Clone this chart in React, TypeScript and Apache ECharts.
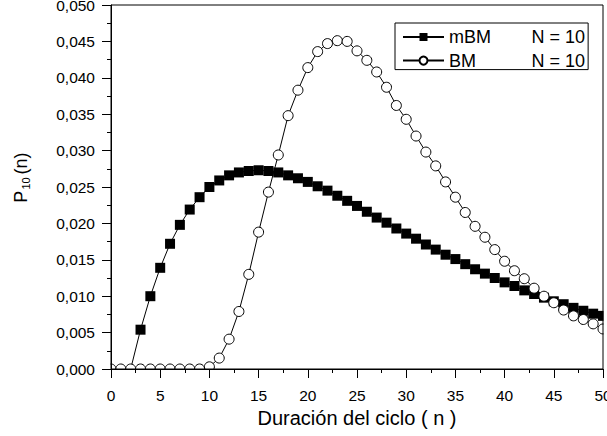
import React, { useEffect, useRef } from "react";
import * as echarts from "echarts";

const nValues: number[] = Array.from({ length: 51 }, (_, i) => i);

// mBM, N = 10 (starts at n = 2)
const mbmStart = 2;
const mbmValues: number[] = [
  0, 0.0054, 0.0100, 0.0139, 0.0172, 0.0198, 0.0219, 0.0236, 0.0250, 0.0259,
  0.0266, 0.0270, 0.0272, 0.0273, 0.0272, 0.0270, 0.0266, 0.0262, 0.0257, 0.0251,
  0.0245, 0.0238, 0.0231, 0.0224, 0.0216, 0.0208, 0.0201, 0.0193, 0.0186, 0.0179,
  0.0171, 0.0164, 0.0157, 0.0151, 0.0144, 0.0137, 0.0131, 0.0125, 0.0119, 0.0114,
  0.0108, 0.0103, 0.0098, 0.0093, 0.0089, 0.0084, 0.0080, 0.0076, 0.0073,
];

// BM, N = 10 (n = 0..50)
const bmValues: number[] = [
  0, 0, 0, 0, 0, 0, 0, 0, 0, 0,
  0.0003, 0.0015, 0.0041, 0.0079, 0.0130, 0.0188, 0.0243, 0.0294, 0.0348, 0.0383,
  0.0414, 0.0436, 0.0447, 0.0451, 0.0450, 0.0437, 0.0424, 0.0408, 0.0387, 0.0362,
  0.0343, 0.0320, 0.0298, 0.0279, 0.0257, 0.0236, 0.0215, 0.0196, 0.0181, 0.0164,
  0.0148, 0.0135, 0.0124, 0.0111, 0.0100, 0.0091, 0.0081, 0.0073, 0.0068, 0.0062,
  0.0055,
];

const seriesNames = ["mBM", "BM"];
const seriesN = ["N = 10", "N = 10"];
const xTitle = "Duración del ciclo ( n )";

const FONT = '"Liberation Sans", Arial, Helvetica, sans-serif';

export default function App() {
  const ref = useRef<HTMLDivElement>(null);
  useEffect(() => {
    if (!ref.current) return;
    const chart = echarts.init(ref.current, null, { renderer: "svg" });
    const W = 607;
    const H = 436;
    const gL = 111, gT = 5, gR = 4, gB = 67;
    const plotBottom = H - gB;
    const plotRight = W - gR;

    const mbmData = mbmValues.map((v, i) => {
      const n = nValues[i + mbmStart];
      if (i === 0) return { value: [n, v], symbol: "none" };
      return { value: [n, v] };
    });
    const bmData = bmValues.map((v, i) => [nValues[i], v]);

    chart.setOption({
      animation: false,
      textStyle: { fontFamily: FONT },
      grid: {
        left: gL, top: gT, right: gR, bottom: gB,
        containLabel: false,
        outerBoundsMode: "none",
        show: true, borderColor: "#000", borderWidth: 1, z: 6,
        backgroundColor: "transparent",
      },
      legend: {
        orient: "vertical",
        left: 395,
        top: 23,
        padding: [5, 3, 0, 7],
        itemGap: 5.6,
        itemWidth: 41,
        itemHeight: 10,
        borderColor: "#000",
        borderWidth: 1,
        backgroundColor: "#fff",
        data: seriesNames,
        formatter: (name: string) => {
          const idx = seriesNames.indexOf(name);
          return `{a|${name}}{b|${seriesN[idx]}}`;
        },
        textStyle: {
          fontFamily: FONT,
          fontSize: 18,
          color: "#000",
          rich: {
            a: { fontFamily: FONT, fontSize: 18, color: "#000", width: 82.6, lineHeight: 17 },
            b: { fontFamily: FONT, fontSize: 18, color: "#000", lineHeight: 17 },
          },
        },
      },
      xAxis: {
        type: "value",
        min: 0,
        max: 50,
        interval: 5,
        z: 7,
        name: xTitle,
        nameLocation: "middle",
        nameGap: 38,
        nameTextStyle: { fontFamily: FONT, fontSize: 20, color: "#000" },
        axisLine: { show: true, onZero: false, lineStyle: { color: "#000", width: 1 } },
        axisTick: { show: true, inside: false, length: 9, lineStyle: { color: "#000" } },
        minorTick: { show: true, splitNumber: 2, length: 4, lineStyle: { color: "#000" } },
        splitLine: { show: false },
        axisLabel: { fontFamily: FONT, fontSize: 15.5, color: "#000", margin: 18, showMaxLabel: true },
      },
      yAxis: {
        type: "value",
        min: 0,
        max: 0.05,
        interval: 0.005,
        z: 7,
        name: "{p|P}{s|10}{p|(n)}",
        nameLocation: "middle",
        nameGap: 80,
        nameRotate: 90,
        nameTextStyle: {
          fontFamily: FONT,
          color: "#000",
          padding: [0, 0, 0, 19],
          rich: {
            p: { fontFamily: FONT, fontSize: 18, color: "#000" },
            s: { fontFamily: FONT, fontSize: 11, color: "#000", padding: [10, 3, 0, 1] },
          },
        },
        axisLine: { show: true, onZero: false, lineStyle: { color: "#000", width: 1 } },
        axisTick: { show: true, inside: false, length: 9, lineStyle: { color: "#000" } },
        minorTick: { show: true, splitNumber: 2, length: 4, lineStyle: { color: "#000" } },
        splitLine: { show: false },
        axisLabel: {
          fontFamily: FONT,
          fontSize: 15.5,
          color: "#000",
          margin: 16,
          formatter: (v: number) => v.toFixed(3).replace(".", ","),
        },
      },
      graphic: [
        {
          type: "rect",
          z: 5,
          shape: { x: 0, y: plotBottom + 0.5, width: W, height: 6 },
          style: { fill: "#fff" },
          silent: true,
        },
        {
          type: "rect",
          z: 5,
          shape: { x: gL - 10, y: plotBottom - 12, width: 9.5, height: 18 },
          style: { fill: "#fff" },
          silent: true,
        },
        {
          type: "rect",
          z: 5,
          shape: { x: plotRight + 0.5, y: 0, width: 10, height: plotBottom },
          style: { fill: "#fff" },
          silent: true,
        },
      ],
      series: [
        {
          name: seriesNames[0],
          type: "line",
          z: 2,
          data: mbmData,
          symbol: "rect",
          symbolSize: 10,
          showAllSymbol: true,
          lineStyle: { color: "#000", width: 1 },
          itemStyle: { color: "#000", borderColor: "#000", borderWidth: 0 },
          clip: false,
        },
        {
          name: seriesNames[1],
          type: "line",
          z: 3,
          data: bmData,
          symbol: "circle",
          symbolSize: 10,
          showAllSymbol: true,
          lineStyle: { color: "#000", width: 1 },
          itemStyle: { color: "#fff", borderColor: "#000", borderWidth: 1 },
          clip: false,
        },
      ],
    });
    return () => chart.dispose();
  }, []);
  return <div ref={ref} style={{ width: 607, height: 436, position: "absolute", left: 0, top: 0 }} />;
}
